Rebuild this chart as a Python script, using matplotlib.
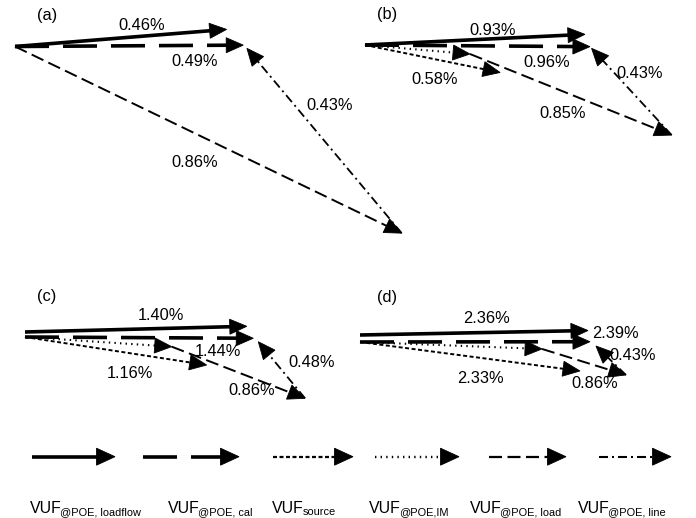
import numpy as np
import matplotlib
matplotlib.use("Agg")
import matplotlib.pyplot as plt
from matplotlib.patches import Polygon

plt.rcParams['font.family'] = ['Liberation Sans', 'DejaVu Sans']
plt.rcParams['lines.scale_dashes'] = False

# ------------------------------------------------------------------
# DATA: phasor components (real, imaginary) in %, order of `series`
# loadflow, cal, source, IM start at origin; load starts at the IM tip
# (or origin when IM absent); line starts at the load tip.
# ------------------------------------------------------------------
series = ['loadflow', 'cal', 'source', 'IM', 'load', 'line']
nan = np.nan

a_re = [0.458, 0.494, nan, nan, 0.837, -0.335]
a_im = [0.037, 0.003, nan, nan, -0.404, 0.400]
a_vuf = [0.46, 0.49, nan, nan, 0.86, 0.43]

b_re = [0.928, 0.949, 0.570, 0.443, 0.851, -0.338]
b_im = [0.045, -0.007, -0.116, -0.038, -0.342, 0.366]
b_vuf = [0.93, 0.96, 0.58, nan, 0.85, 0.43]

c_re = [1.400, 1.441, 1.147, 0.926, 0.842, -0.295]
c_im = [0.036, -0.008, -0.177, -0.061, -0.326, 0.357]
c_vuf = [1.40, 1.44, 1.16, nan, 0.86, 0.48]

d_re = [2.392, 2.413, 2.308, 1.910, 0.881, -0.315]
d_im = [0.047, 0.003, -0.304, -0.073, -0.273, 0.304]
d_vuf = [2.36, 2.39, 2.33, nan, 0.86, 0.43]

panel_tags = ['(a)', '(b)', '(c)', '(d)']
legend_main = 'VUF'
legend_subs = ['@POE, loadflow', '@POE, cal', 'source', '@POE,IM', '@POE, load', '@POE, line']

# ------------------------------------------------------------------
# LAYOUT (pixels, from top-left of a 696x518 canvas)
# ------------------------------------------------------------------
W, H = 696, 518
panels = [
    dict(re=a_re, im=a_im, vuf=a_vuf, origin=(15, 46.5), scale=462.0, lf_off=0,
         tag=(46.7, 14),
         lbl=[(141.7, 24), (195, 60), None, None, (194.3, 160.7), (330, 104.3)]),
    dict(re=b_re, im=b_im, vuf=b_vuf, origin=(365, 45), scale=237.0, lf_off=0,
         tag=(387, 13),
         lbl=[(493, 29.5), (546.7, 61), (435, 78.3), None, (563, 111.7), (640, 72.3)]),
    dict(re=c_re, im=c_im, vuf=c_vuf, origin=(25, 337), scale=158.4, lf_off=5,
         tag=(47, 295),
         lbl=[(160.8, 314), (217.5, 350), (130, 371.7), None, (251.7, 389.3), (311.7, 361)]),
    dict(re=d_re, im=d_im, vuf=d_vuf, origin=(360, 342), scale=95.3, lf_off=7,
         tag=(387, 296),
         lbl=[(486.7, 317.5), (615, 331.7), (480, 377.3), None, (595, 381.7), (633, 354)]),
]

PX = 0.72  # points per pixel at 100 dpi
styles = {
    'loadflow': dict(lw=2.6, ls='-'),
    'cal':      dict(lw=2.6, ls=(0, (34 * PX, 14 * PX))),
    'source':   dict(lw=1.4, ls=(0, (4 * PX, 2.5 * PX))),
    'IM':       dict(lw=1.5, ls=(0, (1.4 * PX, 4.2 * PX))),
    'load':     dict(lw=1.4, ls=(0, (13 * PX, 5.5 * PX))),
    'line':     dict(lw=1.3, ls=(0, (9 * PX, 4 * PX, 2 * PX, 4 * PX))),
}
FS = 11.8

fig = plt.figure(figsize=(W / 100, H / 100), dpi=100)


def draw_arrow(ax, start, end, name, px_per_unit, head_len_px, head_hw_px, lw_scale=1.0):
    """Shaft as a styled line, head as a solid filled triangle.
    Axes data units are isotropic: px_per_unit pixels per data unit."""
    st = styles[name]
    start = np.asarray(start, float)
    end = np.asarray(end, float)
    v = end - start
    L = np.hypot(*v)
    u = v / L
    n = np.array([-u[1], u[0]])
    hl = head_len_px / px_per_unit
    hw = head_hw_px / px_per_unit
    shaft_end = end - u * hl * 0.7
    ax.plot([start[0], shaft_end[0]], [start[1], shaft_end[1]], color='black',
            lw=st['lw'] * lw_scale, linestyle=st['ls'], solid_capstyle='butt',
            dash_capstyle='butt')
    base = end - u * hl
    tri = np.array([end, base + n * hw, base - n * hw])
    ax.add_patch(Polygon(tri, closed=True, facecolor='black', edgecolor='black',
                         lw=0.6, joinstyle='miter'))


def fig_xy(px, py):
    return px / W, 1 - py / H


for p in panels:
    Ox, Oy = p['origin']
    s = p['scale']
    ax = fig.add_axes([0, 0, 1, 1])
    ax.set_xlim(-Ox / s, (W - Ox) / s)
    ax.set_ylim((Oy - H) / s, Oy / s)
    ax.set_axis_off()
    re = np.array(p['re'], dtype=float)
    im = np.array(p['im'], dtype=float)
    vec = {n: np.array([re[i], im[i]]) for i, n in enumerate(series)}
    origin = np.array([0.0, 0.0])
    starts = {}
    starts['loadflow'] = origin + np.array([0.0, p['lf_off'] / s])
    starts['cal'] = origin
    starts['source'] = origin
    starts['IM'] = origin
    im_ok = not np.isnan(vec['IM'][0])
    starts['load'] = origin + (vec['IM'] if im_ok else 0.0)
    starts['line'] = starts['load'] + vec['load']
    for n in ['source', 'IM', 'load', 'line', 'cal', 'loadflow']:
        v = vec[n]
        if np.isnan(v[0]):
            continue
        draw_arrow(ax, starts[n], starts[n] + v, n, s, 17, 7.5)
    for i, n in enumerate(series):
        pos = p['lbl'][i]
        if pos is None or np.isnan(p['vuf'][i]):
            continue
        x, y = fig_xy(pos[0], pos[1] + 0.36 * FS / PX)
        fig.text(x, y, f"{p['vuf'][i]:.2f}%", fontsize=FS, ha='center', va='baseline')

for p, tag in zip(panels, panel_tags):
    x, y = fig_xy(p['tag'][0], p['tag'][1] + 0.36 * FS / PX)
    fig.text(x, y, tag, fontsize=FS, ha='center', va='baseline')

# ------------------------------------------------------------------
# Legend
# ------------------------------------------------------------------
lax = fig.add_axes([0, 0, 1, 1])
lax.set_xlim(0, W)
lax.set_ylim(0, H)
lax.set_axis_off()
leg_arrows = [(31.7, 115), (143, 239), (273, 353), (375, 459), (489, 566), (599, 671)]
leg_y = 456.7
leg_text_x = [30, 168, 272, 369, 470, 578]
leg_base = 513.3
for (x0, x1), n in zip(leg_arrows, series):
    draw_arrow(lax, (x0, H - leg_y), (x1, H - leg_y), n, 1.0, 18.5, 8.5,
               lw_scale=1.0 if n in ('loadflow', 'cal') else 1.15)

fig.canvas.draw()
renderer = fig.canvas.get_renderer()
for tx, sub in zip(leg_text_x, legend_subs):
    x, y = fig_xy(tx, leg_base)
    t = fig.text(x, y, legend_main, fontsize=11.4, ha='left', va='baseline')
    bb = t.get_window_extent(renderer)
    _, ys = fig_xy(0, leg_base + 2)
    fig.text((bb.x1 - 1.5) / W, ys, sub, fontsize=7.9, ha='left', va='baseline')

fig.savefig('out.png', dpi=100)
